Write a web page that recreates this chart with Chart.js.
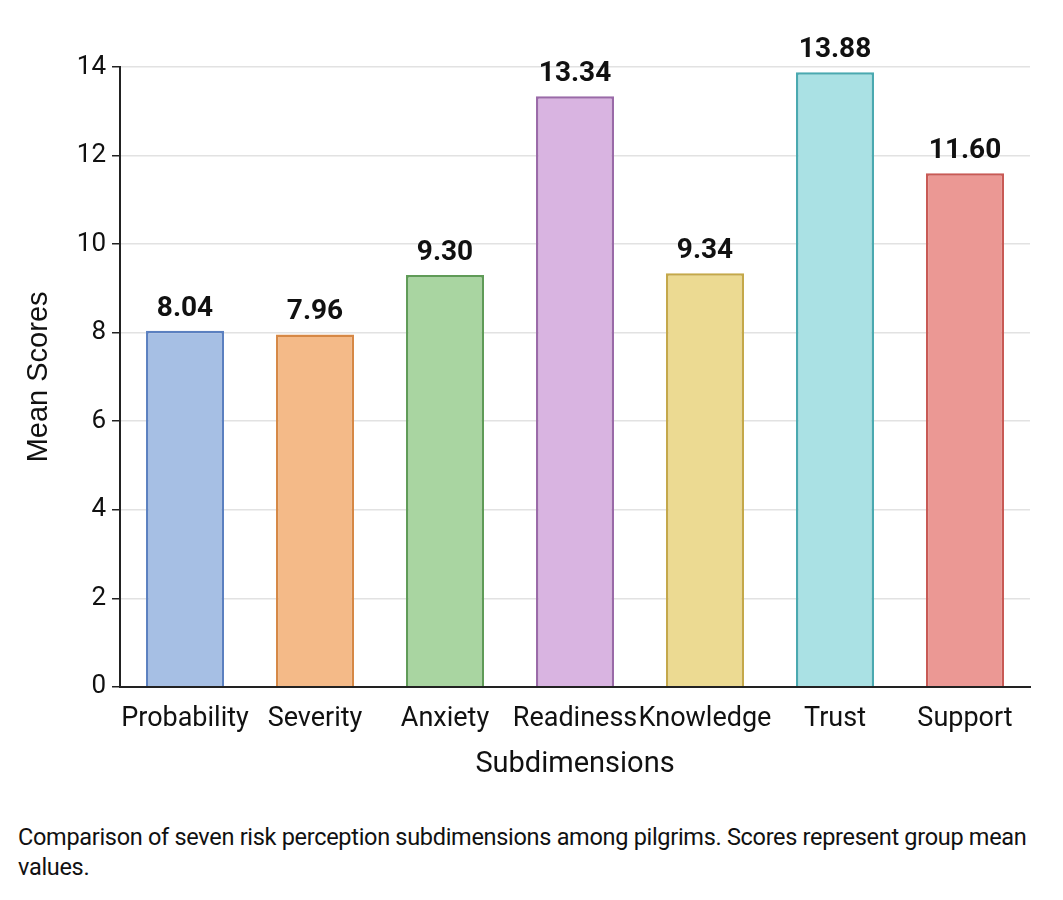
<!DOCTYPE html>
<html>
<head>
<meta charset="utf-8">
<script src="https://cdn.jsdelivr.net/npm/chart.js@4"></script>
<style>
  body { margin: 0; background: #fff; }
  #wrap { position: relative; width: 1063px; height: 786px; }
  #caption { position: absolute; left: 18px; top: 822px; width: 1030px;
    font-family: "Liberation Sans Narrow", "Roboto", sans-serif; font-size: 23.5px; line-height: 30px; color: #111; letter-spacing: -0.3px; }
</style>
</head>
<body>
<div id="wrap"><canvas id="chart"></canvas></div>
<div id="caption">Comparison of seven risk perception subdimensions among pilgrims. Scores represent group mean values.</div>
<script>
const categories = ['Probability', 'Severity', 'Anxiety', 'Readiness', 'Knowledge', 'Trust', 'Support'];
const meanScores = [8.04, 7.96, 9.30, 13.34, 9.34, 13.88, 11.60];
const fillColors = ['#a6bfe4', '#f4ba88', '#a9d5a1', '#d9b4e1', '#ecda92', '#aae1e4', '#eb9894'];
const borderColors = ['#5b80c0', '#d68845', '#5f9b57', '#9a6aa8', '#c4a84a', '#4aa9b0', '#c85a55'];
const yTicks = [0, 2, 4, 6, 8, 10, 12, 14];

const FONT = '"Liberation Sans Narrow", "Roboto", sans-serif';

const valueLabels = {
  id: 'valueLabels',
  afterDatasetsDraw(chart) {
    const ctx = chart.ctx;
    const meta = chart.getDatasetMeta(0);
    ctx.save();
    ctx.font = 'bold 28px ' + FONT;
    ctx.fillStyle = '#111';
    ctx.textAlign = 'center';
    ctx.textBaseline = 'bottom';
    meta.data.forEach((bar, i) => {
      ctx.fillText(meanScores[i].toFixed(2), bar.x, bar.y - 8);
    });
    ctx.restore();
  }
};

new Chart(document.getElementById('chart'), {
  type: 'bar',
  data: {
    labels: categories,
    datasets: [{
      data: meanScores,
      backgroundColor: fillColors,
      borderColor: borderColors,
      borderWidth: 2.5,
      barPercentage: 0.6,
      categoryPercentage: 1
    }]
  },
  options: {
    responsive: true,
    maintainAspectRatio: false,
    animation: false,
    layout: { padding: { top: 67, right: 33, left: 18 } },
    plugins: { legend: { display: false }, tooltip: { enabled: false } },
    scales: {
      x: {
        grid: { display: false },
        border: { color: '#222', width: 2 },
        ticks: { color: '#111', font: { family: FONT, size: 27 }, padding: 8, maxRotation: 0, autoSkip: false },
        title: { display: true, text: 'Subdimensions', color: '#111', font: { family: FONT, size: 29 }, padding: { top: 4 } }
      },
      y: {
        min: 0, max: 14,
        afterBuildTicks(axis) { axis.ticks = yTicks.map(v => ({ value: v })); },
        grid: { color: '#e2e2e2', lineWidth: 1.5, drawTicks: true, tickColor: '#222', tickLength: 8 },
        border: { color: '#222', width: 2 },
        ticks: { color: '#111', font: { family: FONT, size: 26 }, padding: 6 },
        title: { display: true, text: 'Mean Scores', color: '#111', font: { family: 'Liberation Sans, Arial, sans-serif', size: 29 }, padding: { bottom: 14 } }
      }
    }
  },
  plugins: [valueLabels]
});
</script>
</body>
</html>
